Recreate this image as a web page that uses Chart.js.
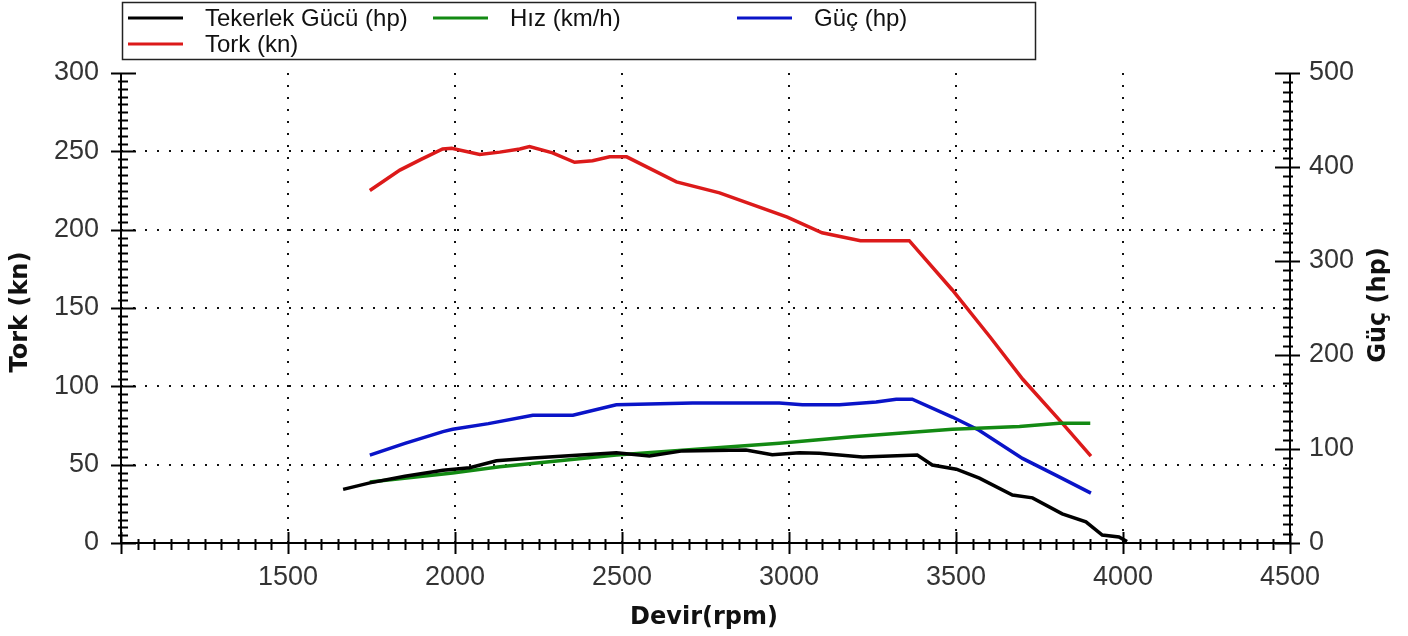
<!DOCTYPE html>
<html>
  <head>
    <style>
      html, body { margin: 0; background: #ffffff; }
      #chart-container { position: relative; width: 1408px; height: 636px; }
    </style>
  </head>
  <body>
    <div id="chart-container">
      <canvas id="chart"></canvas>
    </div>

    <script src="https://cdn.jsdelivr.net/npm/chart.js"></script>
    <script>
      // values
      const tekerlekRpm = [1665, 1745, 1850, 1964, 2044, 2124, 2233, 2483, 2582, 2681, 2871, 2950, 3031, 3091, 3220, 3384, 3429, 3501, 3570, 3669, 3729, 3818, 3889, 3938, 3988, 4012];
      const tekerlekHp  = [57, 64, 71, 77.5, 80, 87.5, 90.5, 96, 92.5, 98, 99, 94, 96, 95.5, 91.5, 93.5, 83, 78.5, 69, 51, 48, 31, 22.5, 8.5, 6.5, 1.5];

      const hizRpm = [1745, 1993, 2134, 2483, 2971, 3190, 3339, 3489, 3690, 3809, 3902];
      const hizVal = [65, 74.5, 81, 93.5, 106, 113, 117, 121, 124, 127.5, 127.5];

      const gucRpm = [1745, 1850, 1964, 1993, 2100, 2233, 2353, 2483, 2711, 2971, 3040, 3151, 3261, 3321, 3369, 3489, 3569, 3699, 3800, 3904];
      const gucHp  = [93.5, 106, 118.5, 121, 127, 136, 136, 147, 149, 149, 147, 147, 150, 153, 153, 134, 120, 90, 72, 53];

      const torkRpm = [1745, 1835, 1900, 1963, 1990, 2074, 2134, 2194, 2223, 2292, 2358, 2412, 2463, 2514, 2663, 2792, 2995, 3099, 3214, 3360, 3489, 3602, 3700, 3818, 3904];
      const torkVal = [225, 238, 245, 251.5, 252, 248, 249.5, 251.5, 253, 249, 243, 244, 246.5, 246.5, 230.5, 223.5, 208, 198, 193, 193, 161.5, 131.5, 104.5, 76.5, 55.5];

      const xTicks = [1000, 1500, 2000, 2500, 3000, 3500, 4000, 4500];
      const leftTicks = [0, 50, 100, 150, 200, 250, 300];
      const rightTicks = [0, 100, 200, 300, 400, 500];

      function pts(xs, ys) {
        return xs.map((x, i) => ({ x: x, y: ys[i] }));
      }

      // grid, axis lines, tick marks, legend and axis titles
      const frame = {
        id: 'frame',
        beforeDatasetsDraw(chart) {
          const ctx = chart.ctx;
          const a = chart.chartArea;
          const x = chart.scales.x, yL = chart.scales.yL;
          ctx.save();
          ctx.strokeStyle = '#111';
          ctx.lineWidth = 2;
          ctx.setLineDash([2, 10]);
          xTicks.slice(1, -1).forEach(v => {
            const px = Math.round(x.getPixelForValue(v));
            ctx.beginPath(); ctx.moveTo(px, a.bottom); ctx.lineTo(px, a.top); ctx.stroke();
          });
          leftTicks.slice(1, -1).forEach(v => {
            const py = Math.round(yL.getPixelForValue(v));
            ctx.beginPath(); ctx.moveTo(a.left, py); ctx.lineTo(a.right, py); ctx.stroke();
          });
          ctx.restore();
        },
        afterDraw(chart) {
          const ctx = chart.ctx;
          const a = chart.chartArea;
          const x = chart.scales.x, yL = chart.scales.yL, yR = chart.scales.yR;
          ctx.save();
          ctx.strokeStyle = '#000';
          ctx.lineWidth = 2;
          ctx.beginPath();
          ctx.moveTo(a.left, a.top); ctx.lineTo(a.left, a.bottom); ctx.lineTo(a.right, a.bottom);
          ctx.moveTo(a.right, a.top); ctx.lineTo(a.right, a.bottom);
          ctx.stroke();

          // x ticks: every 50 rpm, majors every 500
          for (let v = 1000; v <= 4500; v += 50) {
            const px = Math.round(x.getPixelForValue(v)) + 0.5;
            const major = v % 500 === 0;
            ctx.beginPath();
            ctx.moveTo(px, a.bottom - (major ? 11 : 4));
            ctx.lineTo(px, a.bottom + (major ? 11 : 7));
            ctx.stroke();
          }
          // left ticks: every 5, majors every 50
          for (let v = 0; v <= 300; v += 5) {
            const py = Math.round(yL.getPixelForValue(v)) + 0.5;
            const major = v % 50 === 0;
            ctx.beginPath();
            ctx.moveTo(a.left - (major ? 10 : 3), py);
            ctx.lineTo(a.left + (major ? 15 : 7), py);
            ctx.stroke();
          }
          // right ticks: every 10, majors every 100
          for (let v = 0; v <= 500; v += 10) {
            const py = Math.round(yR.getPixelForValue(v)) + 0.5;
            const major = v % 100 === 0;
            ctx.beginPath();
            ctx.moveTo(a.right - (major ? 15 : 7), py);
            ctx.lineTo(a.right + (major ? 10 : 3), py);
            ctx.stroke();
          }

          // legend box
          ctx.lineWidth = 1.5;
          ctx.strokeStyle = '#222';
          ctx.strokeRect(122.5, 2.5, 913, 57);
          const cols = [128, 433, 737];
          const rows = [18, 44];
          ctx.font = '24px "Liberation Sans", Arial, sans-serif';
          ctx.textBaseline = 'middle';
          ctx.textAlign = 'left';
          chart.data.datasets.forEach((ds, i) => {
            const lx = cols[i % 3], ly = rows[Math.floor(i / 3)];
            ctx.strokeStyle = ds.borderColor;
            ctx.lineWidth = 3;
            ctx.beginPath(); ctx.moveTo(lx, ly); ctx.lineTo(lx + 55, ly); ctx.stroke();
            ctx.fillStyle = '#111';
            ctx.fillText(ds.label, lx + 77, ly + 1);
          });

          // axis titles
          ctx.fillStyle = '#111';
          ctx.font = 'bold 24px "DejaVu Sans", sans-serif';
          ctx.textAlign = 'center';
          ctx.fillText('Devir(rpm)', 704, 618);
          ctx.save();
          ctx.translate(21, 312);
          ctx.rotate(-Math.PI / 2);
          ctx.fillText('Tork (kn)', 0, 0);
          ctx.restore();
          ctx.save();
          ctx.translate(1379, 305);
          ctx.rotate(-Math.PI / 2);
          ctx.fillText('Güç (hp)', 0, 0);
          ctx.restore();
          ctx.restore();
        }
      };

      const tickFont = { family: '"Liberation Sans", Arial, sans-serif', size: 27 };

      new Chart(document.getElementById('chart'), {
        type: 'line',
        data: {
          datasets: [
            { label: 'Tekerlek Gücü (hp)', data: pts(tekerlekRpm, tekerlekHp), borderColor: '#000000', yAxisID: 'yR' },
            { label: 'Hız (km/h)', data: pts(hizRpm, hizVal), borderColor: '#138a13', yAxisID: 'yR' },
            { label: 'Güç (hp)', data: pts(gucRpm, gucHp), borderColor: '#0a14c8', yAxisID: 'yR' },
            { label: 'Tork (kn)', data: pts(torkRpm, torkVal), borderColor: '#dc1a1a', yAxisID: 'yL' }
          ]
        },
        options: {
          responsive: true,
          maintainAspectRatio: false,
          animation: false,
          layout: { padding: { top: 73, left: 0, right: 0, bottom: 0 } },
          elements: {
            line: { borderWidth: 3.5, tension: 0, fill: false },
            point: { radius: 0 }
          },
          plugins: {
            legend: { display: false },
            tooltip: { enabled: false }
          },
          scales: {
            x: {
              type: 'linear',
              min: 1000,
              max: 4500,
              afterFit: s => { s.height = 93; },
              afterBuildTicks: s => { s.ticks = xTicks.map(v => ({ value: v })); },
              grid: { display: false },
              border: { display: false },
              ticks: {
                padding: 10,
                color: '#333',
                font: tickFont,
                maxRotation: 0,
                callback: v => v === 1000 ? '' : v
              }
            },
            yL: {
              type: 'linear',
              position: 'left',
              min: 0,
              max: 300,
              afterFit: s => { s.width = 121; },
              afterBuildTicks: s => { s.ticks = leftTicks.map(v => ({ value: v })); },
              grid: { display: false },
              border: { display: false },
              ticks: { padding: 14, color: '#333', font: tickFont }
            },
            yR: {
              type: 'linear',
              position: 'right',
              min: 0,
              max: 500,
              afterFit: s => { s.width = 118; },
              afterBuildTicks: s => { s.ticks = rightTicks.map(v => ({ value: v })); },
              grid: { display: false },
              border: { display: false },
              ticks: { padding: 11, color: '#333', font: tickFont }
            }
          }
        },
        plugins: [frame]
      });
    </script>
  </body>
</html>
